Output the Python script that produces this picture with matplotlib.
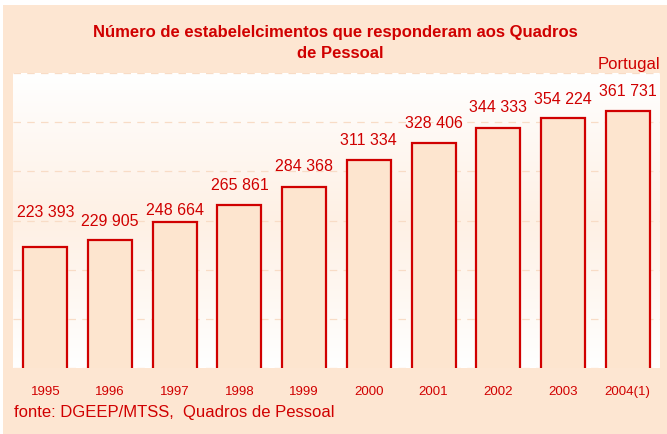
import numpy as np
import matplotlib.pyplot as plt
from matplotlib.colors import LinearSegmentedColormap
from matplotlib.patches import Rectangle

years = ["1995", "1996", "1997", "1998", "1999", "2000", "2001", "2002", "2003", "2004(1)"]
values = [223393, 229905, 248664, 265861, 284368, 311334, 328406, 344333, 354224, 361731]
value_labels = ["223 393", "229 905", "248 664", "265 861", "284 368",
                "311 334", "328 406", "344 333", "354 224", "361 731"]
# vertical gap (px) between bar top and label centre, as in the original
label_gaps = [34, 19, 11, 19, 20, 20, 20, 20, 19, 19]

red = "#D00000"
peach = "#FDE6D2"

plt.rcParams['font.family'] = ['Liberation Sans', 'DejaVu Sans']

fig = plt.figure(figsize=(6.67, 4.34), dpi=100)
fig.patch.set_facecolor("white")
# peach panel behind everything
fig.patches.append(Rectangle((3 / 667, 0), 1, 1 - 5 / 434, transform=fig.transFigure,
                             facecolor=peach, edgecolor="none", zorder=0))

ax = fig.add_axes([13 / 667, 66 / 434, 647 / 667, 295 / 434])
ax.set_zorder(1)

# soft white -> peach gradient for the plot area
grad = LinearSegmentedColormap.from_list("g", ["#FFFFFF", "#FEF0E4", "#FFFFFF"])
ax.imshow(np.linspace(0, 1, 256).reshape(-1, 1), aspect="auto", cmap=grad,
          extent=[-0.5, len(years) - 0.5, 100000, 400000], origin="upper", zorder=0)

x = np.arange(len(years))
ax.bar(x, values, bottom=0, width=0.68, color="#FDE5CF", edgecolor=red,
       linewidth=1.6, zorder=3)

for xi, v, lab, gap in zip(x, values, value_labels, label_gaps):
    ax.annotate(lab, (xi, v), xytext=(0, gap * 0.72), textcoords="offset points",
                ha="center", va="center", color=red, fontsize=11.5, zorder=4)

ax.set_xlim(-0.5, len(years) - 0.5)
ax.set_ylim(100000, 400000)
ax.set_yticks(np.arange(100000, 400001, 50000))
ax.set_yticklabels([])
ax.yaxis.grid(True, linestyle=(0, (6, 5)), color="#F8DCC6", linewidth=0.9, zorder=1)
ax.set_axisbelow(True)
ax.tick_params(axis="y", length=0)
ax.set_xticks(x)
ax.set_xticklabels(years, color=red, fontsize=9.5)
ax.tick_params(axis="x", length=0, pad=13)
for s in ax.spines.values():
    s.set_visible(False)

fig.text(0.503, 1 - 32 / 434, "Número de estabelelcimentos que responderam aos Quadros",
         ha="center", va="center", color=red, fontsize=12, fontweight="bold")
fig.text(0.51, 1 - 54 / 434, "de Pessoal",
         ha="center", va="center", color=red, fontsize=12, fontweight="bold")
fig.text(629 / 667, 1 - 64 / 434, "Portugal", ha="center", va="center",
         color=red, fontsize=12)
fig.text(14 / 667, 1 - 413 / 434, "fonte: DGEEP/MTSS,  Quadros de Pessoal",
         ha="left", va="center", color=red, fontsize=12)

fig.savefig("out.png", dpi=100)
